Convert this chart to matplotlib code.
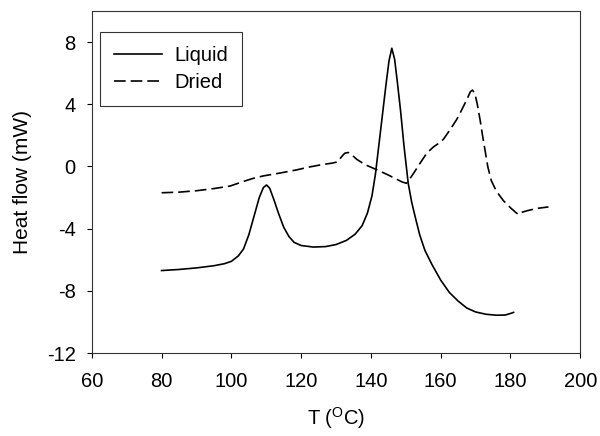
import matplotlib
matplotlib.use("Agg")
from matplotlib import pyplot as plt

plt.rcParams["font.family"] = ["Liberation Sans", "DejaVu Sans"]
plt.rcParams["mathtext.fontset"] = "custom"
plt.rcParams["mathtext.rm"] = "Liberation Sans"
plt.rcParams["axes.unicode_minus"] = False

# Liquid sample (solid line)
liquid_t = [80, 85, 90, 95, 98, 100, 102, 103.5, 105, 106.5, 108, 109.2, 110.1, 111,
            112.3, 113.5, 115, 116.5, 118, 120, 123.5, 127, 130, 133, 135.5, 137.5,
            139, 140.3, 141.3, 142.3, 143.3, 144.3, 145.2, 146.0, 146.8, 147.6, 148.5,
            149.5, 150.7, 151.7, 152.7, 154, 155.5, 157.5, 160, 162.5, 165, 167.5,
            170, 173, 176, 178.5, 180, 180.9]
liquid_hf = [-6.69, -6.62, -6.52, -6.38, -6.25, -6.1, -5.75, -5.3, -4.4, -3.2, -2.0,
             -1.35, -1.19, -1.4, -2.2, -3.0, -3.9, -4.5, -4.88, -5.08, -5.18, -5.15,
             -5.02, -4.75, -4.35, -3.8, -3.0, -1.9, -0.5, 1.4, 3.3, 5.2, 6.8, 7.6, 6.9,
             5.4, 3.6, 1.3, -1.08, -2.3, -3.24, -4.4, -5.4, -6.3, -7.3, -8.1, -8.65,
             -9.1, -9.35, -9.5, -9.56, -9.55, -9.45, -9.38]

# Dried sample (dashed line)
dried_t = [80, 85, 90, 95, 99.6, 103.4, 106, 109.1, 114, 118.7, 122, 125.5, 129, 130.5,
           131.5, 132.5, 133.5, 134.5, 136, 138.5, 141.6, 145, 147, 149, 150.2, 151,
           152.5, 154.1, 156, 157.9, 159.5, 160.8, 162.5, 164.6, 165.5, 167.5, 168.5,
           169.1, 169.8, 170.5, 171.3, 172, 172.7, 173.5, 174.5, 176, 178, 180, 181.5,
           182.3, 183.2, 184.7, 187.5, 190.9]
dried_hf = [-1.69, -1.65, -1.56, -1.42, -1.26, -0.97, -0.78, -0.61, -0.42, -0.22, -0.05,
            0.1, 0.22, 0.3, 0.6, 0.85, 0.9, 0.75, 0.45, 0.1, -0.2, -0.55, -0.78, -1.0,
            -1.08, -0.85, -0.35, 0.21, 0.85, 1.25, 1.5, 1.75, 2.3, 3.02, 3.4, 4.3, 4.8,
            4.91, 4.7, 4.0, 3.0, 2.0, 1.07, 0.0, -0.9, -1.6, -2.2, -2.65, -2.95, -3.09,
            -2.95, -2.85, -2.7, -2.6]

x_ticks = [60, 80, 100, 120, 140, 160, 180, 200]
y_ticks = [-12, -8, -4, 0, 4, 8]

fig = plt.figure(figsize=(6, 4.36), dpi=100)
ax = fig.add_axes([0.153, 0.19, 0.814, 0.785])

ax.plot(liquid_t, liquid_hf, color="black", lw=1.2, label="Liquid")
ax.plot(dried_t, dried_hf, color="black", lw=1.2, linestyle=(0, (7, 3)), label="Dried")

ax.set_xlim(60, 200)
ax.set_ylim(-12, 10)
ax.set_xticks(x_ticks)
ax.set_yticks(y_ticks)
ax.tick_params(direction="out", length=3.5, width=0.8, labelsize=14.5, top=False, right=False)
ax.tick_params(axis="x", pad=10)
ax.tick_params(axis="y", pad=8)
for s in ax.spines.values():
    s.set_linewidth(0.8)
    s.set_color("#333333")

ax.set_xlabel(r"T ($^{\mathrm{O}}$C)", fontsize=14.5, labelpad=10)
ax.set_ylabel("Heat flow (mW)", fontsize=15, labelpad=11)

leg = ax.legend(loc="upper left", fontsize=14.5, frameon=True, fancybox=False,
                edgecolor="black", handlelength=2.4, borderpad=0.7, borderaxespad=0,
                bbox_to_anchor=(0.016, 0.938), labelspacing=0.4, handletextpad=0.6)
leg.get_frame().set_linewidth(0.8)

fig.savefig("out.png", dpi=100)
